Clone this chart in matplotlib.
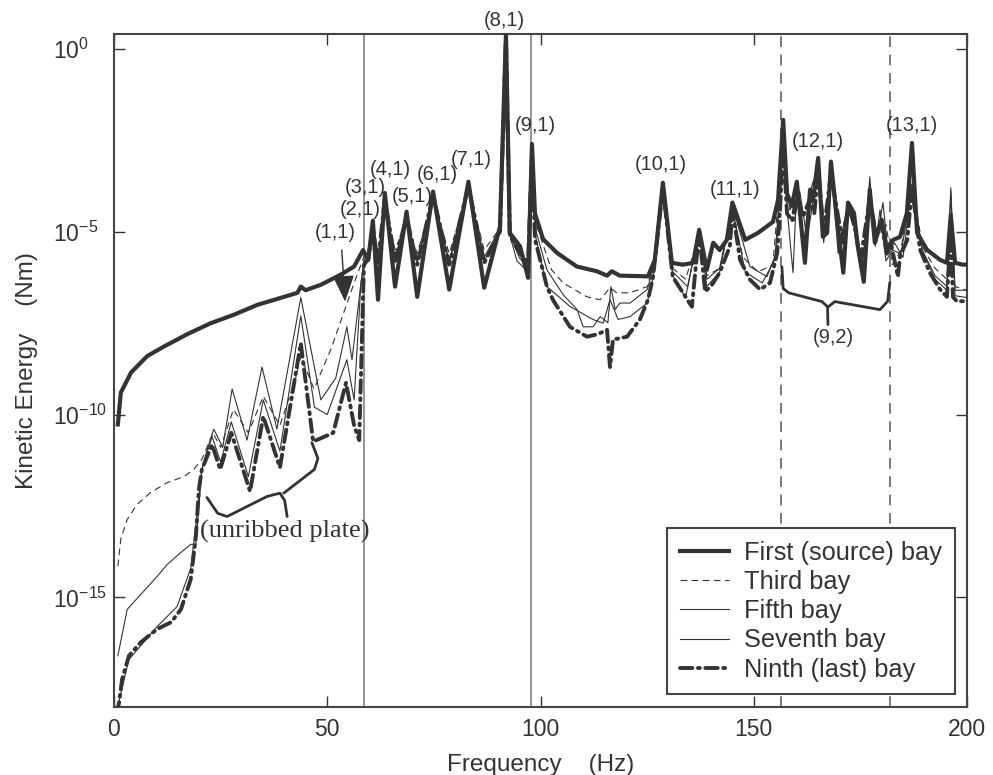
import numpy as np
import matplotlib
matplotlib.use("Agg")
import matplotlib.pyplot as plt
from matplotlib.ticker import NullLocator, FixedLocator

plt.rcParams['font.family'] = ['Liberation Sans', 'DejaVu Sans']
plt.rcParams['mathtext.fontset'] = 'custom'
plt.rcParams['mathtext.rm'] = 'Liberation Sans'
plt.rcParams['mathtext.it'] = 'Liberation Sans'
plt.rcParams['lines.solid_joinstyle'] = 'round'

INK = '#333333'

# ---- kinetic energy per bay: frequency (Hz) and log10(KE in Nm) ----
freq_first = [0.9, 1.6, 4.0, 7.8, 11.7, 17.2, 22.7, 28.1, 33.6, 39.9, 43.0, 43.8, 44.9, 48.5,
              53.2, 56.3, 58.4, 59.6, 60.7, 61.9, 63.5, 65.9, 68.6, 71.1, 74.8, 78.6, 83.1,
              86.8, 90.5, 91.9, 92.8, 95.2, 97.1, 98.0, 98.7, 100.6, 103.9, 108.5, 113.2,
              115.6, 116.7, 118.6, 125.2, 126.8, 128.7, 130.8, 133.4, 135.8, 137.2, 139.0,
              140.5, 142.0, 143.7, 145.0, 148.0, 151.0, 154.5, 155.7, 156.9, 157.8, 158.9,
              160.1, 162.0, 163.2, 163.9, 165.1, 166.2, 167.2, 168.1, 169.5, 171.0, 172.1,
              173.5, 174.4, 175.8, 177.2, 178.4, 180.0, 181.2, 182.7, 184.3, 185.9, 187.1,
              188.3, 190.6, 193.7, 195.3, 196.2, 197.2, 199.0, 200.0]
logke_first = [-10.27, -9.4, -8.85, -8.4, -8.14, -7.8, -7.5, -7.27, -7.0, -6.78, -6.67, -6.5,
               -6.6, -6.45, -6.17, -5.95, -5.5, -5.77, -4.7, -6.86, -3.94, -6.5, -4.45, -6.78,
               -3.9, -6.58, -3.63, -6.53, -4.86, 0.4, -5.03, -5.4, -6.26, -2.6, -4.5, -5.2,
               -5.58, -5.95, -6.08, -6.2, -6.08, -6.2, -6.22, -5.77, -3.66, -5.85, -5.9,
               -5.85, -4.95, -6.04, -5.3, -5.5, -5.22, -4.2, -5.22, -5.03, -4.73, -4.13,
               -1.94, -3.95, -4.3, -3.63, -5.85, -3.85, -4.13, -2.98, -5.14, -5.03, -3.08,
               -4.67, -6.12, -4.2, -4.49, -5.4, -6.37, -3.85, -5.3, -4.67, -5.49, -5.22,
               -5.14, -4.49, -2.57, -5.03, -5.49, -5.77, -5.85, -4.54, -5.85, -5.9, -5.9]

freq_third = [0.9, 1.6, 3.1, 5.4, 8.6, 12.5, 16.4, 18.7, 20.6, 23.2, 25.0, 28.0, 31.5, 35.0,
              38.9, 42.7, 43.8, 46.9, 50.9, 53.9, 56.3, 58.6, 59.6, 60.7, 61.9, 63.5, 65.9,
              68.6, 71.1, 74.8, 78.6, 83.1, 86.8, 90.5, 91.9, 92.8, 94.5, 97.1, 98.0, 99.0,
              102.6, 105.3, 110.9, 114.0, 116.3, 117.9, 121.0, 125.0, 126.5, 128.7, 131.0,
              134.0, 137.2, 139.0, 142.0, 145.0, 147.5, 151.0, 154.5, 156.9, 158.5, 160.1,
              162.0, 163.2, 165.1, 166.5, 168.1, 170.0, 172.1, 174.0, 175.5, 177.2, 179.0,
              181.0, 182.5, 184.5, 187.1, 189.5, 192.5, 195.3, 196.2, 197.2, 200.0]
logke_third = [-14.15, -13.4, -12.87, -12.46, -12.13, -11.86, -11.7, -11.5, -11.23, -10.5,
               -10.9, -9.86, -10.5, -9.5, -10.3, -8.96, -8.4, -9.3, -8.2, -7.2, -6.4, -5.68,
               -5.5, -4.9, -5.6, -4.2, -5.5, -4.7, -5.6, -4.1, -5.6, -3.8, -5.5, -4.9, -0.2,
               -5.0, -5.5, -6.0, -3.0, -4.8, -6.04, -6.4, -6.78, -6.86, -6.53, -6.67, -6.67,
               -6.5, -5.9, -3.9, -6.0, -6.3, -5.1, -6.2, -6.0, -4.5, -5.7, -6.1, -5.9, -2.4,
               -4.4, -3.9, -5.6, -4.0, -3.3, -5.0, -3.3, -5.3, -4.3, -5.2, -5.9, -4.0, -5.1,
               -4.8, -5.9, -5.5, -3.6, -5.4, -6.0, -6.3, -4.8, -6.5, -6.6]

freq_fifth = [0.9, 3.1, 5.9, 10.1, 12.5, 15.7, 18.0, 19.2, 20.6, 22.0, 23.4, 25.5, 27.7, 31.2,
              34.7, 38.2, 43.8, 48.5, 52.0, 54.6, 55.8, 57.9, 58.6, 59.6, 60.7, 61.9, 63.5,
              65.9, 68.6, 71.1, 74.8, 78.6, 83.1, 86.8, 90.5, 91.9, 92.8, 94.5, 97.1, 98.0,
              99.0, 101.5, 105.3, 108.6, 110.0, 112.3, 114.0, 115.8, 116.5, 117.5, 118.6,
              121.0, 125.0, 126.5, 128.7, 131.0, 134.5, 137.2, 139.0, 142.0, 145.0, 149.1,
              153.1, 155.0, 156.9, 158.0, 159.2, 160.1, 161.5, 163.2, 165.1, 166.4, 168.1,
              169.8, 172.1, 174.0, 175.8, 177.2, 178.5, 179.6, 181.0, 182.5, 184.5, 187.1,
              189.5, 192.5, 195.3, 196.2, 197.2, 200.0]
logke_fifth = [-16.6, -15.33, -14.97, -14.43, -14.1, -13.77, -13.55, -13.55, -11.5, -10.9,
               -10.4, -10.9, -9.3, -10.7, -8.7, -10.4, -6.8, -9.6, -9.0, -7.6, -8.5, -6.4,
               -5.8, -5.6, -4.8, -5.8, -4.2, -5.7, -4.6, -5.8, -4.1, -5.8, -3.8, -5.7, -4.9,
               -0.2, -5.1, -5.8, -6.1, -2.9, -5.0, -6.04, -6.72, -7.13, -7.6, -7.6, -7.32,
               -7.49, -6.5, -7.13, -6.95, -6.95, -6.58, -6.0, -3.8, -6.1, -6.5, -4.9, -6.3,
               -6.0, -4.3, -5.95, -6.23, -5.67, -2.5, -4.6, -6.12, -3.8, -5.5, -3.9, -3.2,
               -5.3, -3.2, -5.6, -4.2, -5.0, -6.0, -3.5, -5.4, -4.4, -5.8, -5.5, -5.6, -3.8,
               -5.5, -6.2, -6.5, -3.8, -6.6, -6.6]

freq_seventh = [0.9, 3.5, 10.1, 14.8, 18.0, 19.5, 20.6, 23.0, 25.0, 27.5, 31.5, 35.0, 38.9,
                43.8, 47.0, 50.0, 54.6, 56.3, 57.9, 58.6, 59.6, 60.7, 61.9, 63.5, 65.9, 68.6,
                71.1, 74.8, 78.6, 83.1, 86.8, 90.5, 91.9, 92.8, 95.0, 97.1, 98.0, 98.8,
                101.5, 107.0, 112.3, 114.7, 116.3, 118.2, 121.0, 125.0, 126.5, 128.7, 131.0,
                134.0, 137.2, 139.0, 142.0, 145.0, 148.0, 152.0, 155.2, 156.9, 158.0, 159.5,
                160.8, 162.5, 164.0, 165.1, 166.5, 168.1, 170.0, 172.1, 173.8, 175.5, 177.2,
                178.8, 180.3, 181.5, 183.0, 185.0, 187.1, 189.5, 192.5, 195.3, 196.2, 197.2,
                200.0]
logke_seventh = [-17.98, -16.7, -15.8, -15.25, -14.2, -12.7, -11.5, -10.6, -11.3, -10.2,
                 -11.7, -9.6, -11.0, -7.3, -9.8, -10.0, -8.5, -9.6, -6.4, -5.9, -5.7, -4.85,
                 -5.85, -4.15, -5.75, -4.65, -5.85, -4.05, -5.85, -3.8, -5.8, -4.95, -0.25,
                 -5.05, -5.7, -6.0, -2.85, -5.1, -6.5, -7.05, -7.4, -7.5, -6.86, -7.4, -7.32,
                 -6.95, -6.2, -3.85, -6.2, -6.8, -5.0, -6.5, -6.1, -4.35, -6.1, -6.4, -5.7,
                 -2.55, -4.5, -4.7, -3.9, -5.2, -4.1, -3.4, -5.1, -3.3, -5.5, -4.3, -4.9,
                 -5.9, -3.7, -5.3, -4.2, -5.6, -5.3, -5.7, -3.7, -5.5, -6.3, -6.6, -3.9,
                 -6.75, -6.8]

freq_ninth = [0.6, 1.2, 1.9, 3.5, 6.3, 10.1, 13.4, 15.7, 18.0, 19.2, 19.9, 20.6, 23.0, 24.9,
              27.5, 31.9, 35.0, 38.9, 43.8, 46.7, 51.4, 54.4, 56.3, 57.5, 58.6, 59.6, 60.7,
              61.9, 63.5, 65.9, 68.6, 71.1, 74.8, 78.6, 83.1, 86.8, 90.5, 91.9, 92.8, 95.2,
              97.1, 98.0, 98.7, 101.5, 102.9, 106.9, 110.9, 113.5, 115.6, 116.3, 117.0,
              120.3, 123.3, 125.2, 126.4, 128.7, 131.0, 133.4, 135.5, 137.2, 138.6, 140.2,
              142.0, 144.4, 145.0, 146.8, 149.1, 151.5, 153.8, 155.5, 156.2, 156.9, 157.8,
              159.0, 160.1, 161.5, 163.2, 164.2, 165.1, 166.4, 168.1, 169.8, 171.0, 172.1,
              173.6, 175.0, 177.2, 178.6, 180.0, 181.2, 182.3, 183.8, 184.3, 186.0, 187.1,
              189.0, 191.3, 193.7, 195.3, 196.2, 196.7, 197.6, 200.0]
logke_ninth = [-18.2, -17.87, -17.24, -16.6, -16.23, -15.87, -15.68, -15.33, -14.5, -13.33,
               -12.05, -11.5, -10.82, -11.5, -10.5, -12.1, -10.05, -11.45, -8.05, -10.74,
               -10.5, -9.13, -10.3, -10.7, -5.9, -5.75, -4.9, -5.85, -4.1, -5.8, -4.6, -5.9,
               -4.0, -5.9, -3.75, -5.85, -5.0, 0.3, -5.1, -5.6, -5.8, -2.8, -5.2, -6.5,
               -6.86, -7.6, -7.87, -7.8, -7.68, -8.7, -7.95, -7.87, -7.4, -6.86, -6.23, -3.8,
               -6.23, -6.67, -7.05, -5.0, -6.64, -6.45, -6.12, -5.4, -4.4, -5.77, -6.31,
               -6.58, -6.4, -5.58, -4.3, -2.6, -4.5, -4.7, -4.0, -4.6, -4.1, -4.5, -3.3,
               -5.0, -3.4, -4.6, -5.3, -4.3, -4.8, -5.8, -4.1, -5.0, -4.8, -5.6, -5.4,
               -6.23, -5.67, -5.22, -3.8, -5.49, -6.12, -6.58, -6.78, -5.0, -6.78, -6.9,
               -6.9]

bay_labels = ['First (source) bay', 'Third bay', 'Fifth bay', 'Seventh bay',
              'Ninth (last) bay']

# mode labels: (text, frequency, log10 level)
mode_labels = [('(8,1)', 91.4, 0.79), ('(9,1)', 98.9, -2.1), ('(7,1)', 83.7, -3.03),
               ('(6,1)', 75.7, -3.44), ('(5,1)', 69.9, -4.04), ('(4,1)', 64.7, -3.3),
               ('(3,1)', 58.9, -3.8), ('(2,1)', 57.7, -4.4), ('(10,1)', 128.3, -3.17),
               ('(11,1)', 145.6, -3.85), ('(12,1)', 165.0, -2.54), ('(13,1)', 187.1, -2.08)]

rib_freqs = [58.6, 97.8]          # solid markers
band_freqs = [156.5, 182.0]       # dashed markers bounding the (9,2) group

fig = plt.figure(figsize=(9.93, 7.75), dpi=100)
ax = fig.add_axes([114 / 993, 1 - 707 / 775, 853 / 993, 673 / 775])


def ke(levels):
    return np.power(10.0, np.asarray(levels, dtype=float))


for f in rib_freqs:
    ax.axvline(f, color='#777777', lw=1.1, zorder=1)
for f in band_freqs:
    ax.axvline(f, color='#555555', lw=1.1, dashes=(7, 5), zorder=1)

ax.plot(freq_third, ke(logke_third), color=INK, lw=0.8, dashes=(6, 4),
        label=bay_labels[1], zorder=3)
ax.plot(freq_fifth, ke(logke_fifth), color=INK, lw=0.8, label=bay_labels[2], zorder=3)
ax.plot(freq_seventh, ke(logke_seventh), color=INK, lw=0.8, label=bay_labels[3], zorder=3)
ax.plot(freq_ninth, ke(logke_ninth), color=INK, lw=2.8, dashes=(3.2, 1.4, 0.5, 1.4),
        dash_capstyle='round', label=bay_labels[4], zorder=4)
ax.plot(freq_first, ke(logke_first), color=INK, lw=3.0, label=bay_labels[0], zorder=5)

ax.set_yscale('log')
ax.set_xlim(0, 200)
ax.set_ylim(1e-18, 10 ** 0.41)
ax.xaxis.set_major_locator(FixedLocator([0, 50, 100, 150, 200]))
ax.yaxis.set_major_locator(FixedLocator([1e-15, 1e-10, 1e-5, 1e0]))
ax.yaxis.set_minor_locator(NullLocator())
ax.xaxis.set_minor_locator(NullLocator())
ax.set_yticklabels([r'$10^{-15}$', r'$10^{-10}$', r'$10^{-5}$', r'$10^{0}$'])
for lab in ax.get_yticklabels():
    lab.set_horizontalalignment('left')

ax.tick_params(direction='in', length=8, width=1.0, top=True, right=True,
               labelsize=16.5, colors=INK)
ax.tick_params(axis='y', pad=44)
ax.tick_params(axis='x', pad=8)
for sp in ax.spines.values():
    sp.set_linewidth(1.5)
    sp.set_color('#444444')

ax.set_xlabel('Frequency    (Hz)', fontsize=17.5, color=INK, labelpad=9)
ax.set_ylabel('Kinetic Energy    (Nm)', fontsize=17.5, color=INK, labelpad=11)

for txt, f, lv in mode_labels:
    ax.text(f, 10 ** lv, txt, fontsize=14.5, color=INK, ha='center', va='center',
            clip_on=False, zorder=6)

# (1,1) pointer
ax.text(51.8, 10 ** -5.03, '(1,1)', fontsize=14.5, color=INK, ha='center', va='center')
ax.annotate('', xy=(54.2, 10 ** -6.91), xytext=(53.4, 10 ** -5.5),
            arrowprops=dict(arrowstyle='-|>,head_length=1.1,head_width=0.45',
                            color=INK, lw=1.0, mutation_scale=15, shrinkA=0, shrinkB=0))

# brace over the unribbed-plate peaks
br1_f = [21.8, 24.3, 26.5, 35.9, 38.9, 40.0, 40.6]
br1_l = [-12.27, -12.7, -12.79, -12.24, -12.15, -12.35, -12.79]
br2_f = [39.8, 47.0, 47.8, 46.4]
br2_l = [-12.15, -11.5, -11.2, -10.77]
ax.plot(br1_f, ke(br1_l), color=INK, lw=2.0, solid_capstyle='round', zorder=6)
ax.plot(br2_f, ke(br2_l), color=INK, lw=2.0, solid_capstyle='round', zorder=6)
ax.text(40.1, 10 ** -13.2, '(unribbed plate)', family='Liberation Serif', fontsize=19,
        color=INK, ha='center', va='center', zorder=6)

# brace for the (9,2) group
br3_f = [156.6, 156.9, 158.2, 166.0, 167.3, 167.4]
br3_l = [-5.96, -6.55, -6.67, -6.91, -7.05, -7.54]
br4_f = [167.5, 169.0, 179.6, 181.4, 181.9]
br4_l = [-7.05, -6.91, -7.13, -6.9, -6.39]
ax.plot(br3_f, ke(br3_l), color=INK, lw=2.0, solid_capstyle='round', zorder=6)
ax.plot(br4_f, ke(br4_l), color=INK, lw=2.0, solid_capstyle='round', zorder=6)
ax.text(168.6, 10 ** -7.9, '(9,2)', fontsize=14.5, color=INK, ha='center', va='center')

handles, labels = ax.get_legend_handles_labels()
order = [labels.index(b) for b in bay_labels]
leg = ax.legend([handles[i] for i in order], [labels[i] for i in order],
                loc='lower right', bbox_to_anchor=(0.986, 0.019), borderaxespad=0,
                fontsize=18.3, handlelength=1.95, handletextpad=0.6, labelspacing=0.2,
                borderpad=0.5, fancybox=False, framealpha=1, edgecolor='#444444')
leg.get_frame().set_linewidth(1.5)
leg.set_zorder(10)
for t in leg.get_texts():
    t.set_color(INK)

fig.savefig('out.png', dpi=100)
